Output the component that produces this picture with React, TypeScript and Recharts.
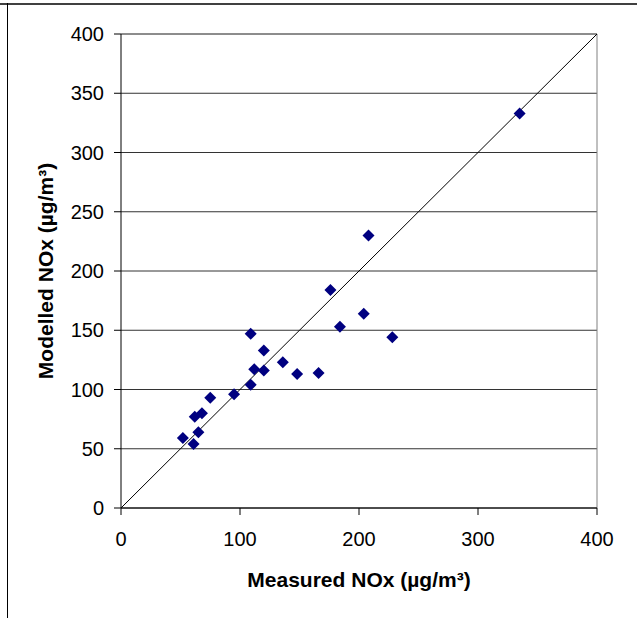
import React from "react";
import {
  CartesianGrid,
  ReferenceLine,
  Scatter,
  ScatterChart,
  XAxis,
  YAxis,
} from "recharts";

const measured = [
  335, 208, 176, 204, 184, 228, 109, 120, 136, 112, 120, 148, 166, 109, 95, 75,
  62, 68, 65, 52, 61,
];
const modelled = [
  333, 230, 184, 164, 153, 144, 147, 133, 123, 117, 116, 113, 114, 104, 96, 93,
  77, 80, 64, 59, 54,
];
const xTicks = [0, 100, 200, 300, 400];
const yTicks = [0, 50, 100, 150, 200, 250, 300, 350, 400];

const points = measured.map((m, i) => ({ x: m, y: modelled[i] }));

const font = "'Liberation Sans', Arial, sans-serif";

const Diamond = (props: any) => {
  const { cx, cy } = props;
  const r = 6;
  return (
    <path
      d={`M${cx},${cy - r}L${cx + r},${cy}L${cx},${cy + r}L${cx - r},${cy}Z`}
      fill="#000080"
    />
  );
};

const YTitle = (props: any) => {
  const vb = props.viewBox;
  const cy = vb.y + vb.height / 2;
  return (
    <text
      x={45}
      y={cy}
      transform={`rotate(-90 45 ${cy})`}
      textAnchor="middle"
      dominantBaseline="central"
      fontFamily={font}
      fontWeight="bold"
      fontSize={21}
      fill="#000"
    >
      Modelled NOx (µg/m³)
    </text>
  );
};

const XTitle = (props: any) => {
  const vb = props.viewBox;
  return (
    <text
      x={vb.x + vb.width / 2}
      y={587}
      textAnchor="middle"
      fontFamily={font}
      fontWeight="bold"
      fontSize={21}
      fill="#000"
    >
      Measured NOx (µg/m³)
    </text>
  );
};

export default function App() {
  return (
    <div
      style={{
        position: "absolute",
        left: 0,
        top: 0,
        width: 637,
        height: 618,
        background: "#fff",
      }}
    >
      <div
        style={{
          position: "absolute",
          left: 0,
          top: 3,
          width: 637,
          height: 2,
          background: "#404040",
        }}
      />
      <div
        style={{
          position: "absolute",
          left: 7,
          top: 3,
          width: 1,
          height: 615,
          background: "#000",
        }}
      />
      <ScatterChart
        width={637}
        height={618}
        margin={{ top: 34, right: 40, bottom: 60, left: 0 }}
        style={{ position: "absolute", left: 0, top: 0 }}
      >
        <CartesianGrid vertical={false} stroke="#333" />
        <XAxis
          type="number"
          dataKey="x"
          domain={[0, 400]}
          ticks={xTicks}
          height={50}
          stroke="#000"
          tickSize={7}
          tickMargin={17}
          tick={{ fill: "#000", fontSize: 20, fontFamily: font }}
          label={{ content: XTitle }}
        />
        <YAxis
          type="number"
          dataKey="y"
          domain={[0, 400]}
          ticks={yTicks}
          width={121}
          stroke="#000"
          tickSize={7}
          tickMargin={10}
          tick={{ fill: "#000", fontSize: 20, fontFamily: font }}
          label={{ content: YTitle }}
        />
        <ReferenceLine y={400} stroke="#808080" />
        <ReferenceLine x={400} stroke="#808080" />
        <ReferenceLine
          segment={[
            { x: 0, y: 0 },
            { x: 400, y: 400 },
          ]}
          stroke="#000"
          strokeWidth={1}
        />
        <Scatter
          data={points}
          shape={Diamond}
          isAnimationActive={false}
        />
      </ScatterChart>
    </div>
  );
}
